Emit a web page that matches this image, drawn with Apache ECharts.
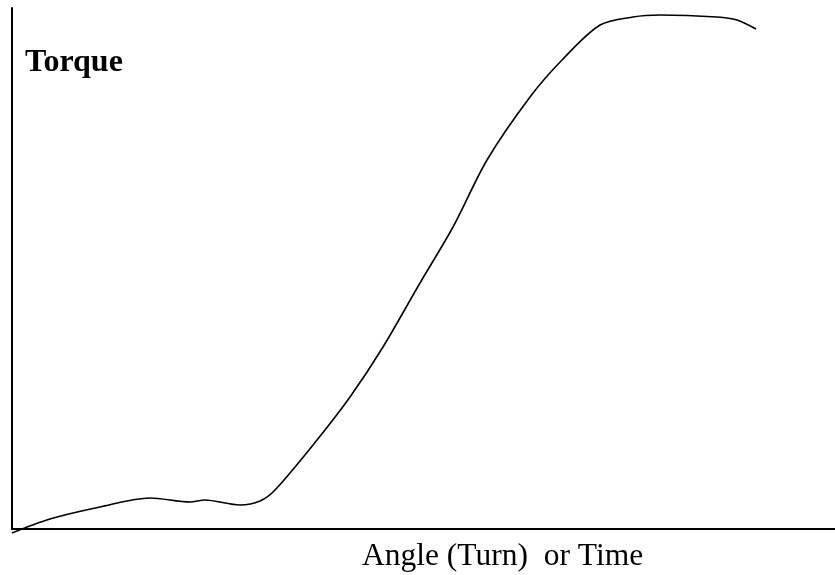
<!DOCTYPE html>
<html>
<head>
<meta charset="utf-8">
<script src="https://cdn.jsdelivr.net/npm/echarts@6/dist/echarts.min.js"></script>
<style>html,body{margin:0;padding:0;background:#fff;}#c{width:835px;height:575px;}</style>
</head>
<body>
<div id="c"></div>
<script>
// Curve samples (angle, torque) in arbitrary units
var angle  = [0, 38, 88, 138, 178, 193, 228, 248, 263, 305, 338, 371, 408, 441, 475, 518, 550, 588, 621, 648, 705, 725, 744];
var torque = [-4, 10, 22, 31, 27, 29, 24, 28, 39, 89, 132, 182, 246, 302, 369, 432, 469, 504, 512, 514, 512, 509, 500];
var yTitle = 'Torque';
var xTitle = 'Angle (Turn)  or Time';

var data = angle.map(function (a, i) { return [a, torque[i]]; });
var chart = echarts.init(document.getElementById('c'), null, {renderer: 'canvas'});
chart.setOption({
  animation: false,
  backgroundColor: '#fff',
  grid: {left: 12, right: 0, top: 8, bottom: 46},
  xAxis: {
    type: 'value', min: 0, max: 823,
    axisLine: {show: true, onZero: false, lineStyle: {color: '#000', width: 2}},
    axisTick: {show: false}, axisLabel: {show: false}, splitLine: {show: false}
  },
  yAxis: {
    type: 'value', min: 0, max: 521,
    axisLine: {show: true, lineStyle: {color: '#000', width: 2}},
    axisTick: {show: false}, axisLabel: {show: false}, splitLine: {show: false}
  },
  series: [{
    type: 'line', data: data, smooth: 0.3, clip: false, showSymbol: false,
    lineStyle: {color: '#000', width: 1.6}
  }],
  graphic: [
    {type: 'text', left: 25, top: 47, style: {text: yTitle, font: 'bold 32px "Liberation Serif", "Times New Roman", serif', fill: '#000'}},
    {type: 'text', left: 362, top: 541, style: {text: xTitle, font: '31.5px "Liberation Serif", "Times New Roman", serif', fill: '#000'}}
  ]
});
</script>
</body>
</html>
